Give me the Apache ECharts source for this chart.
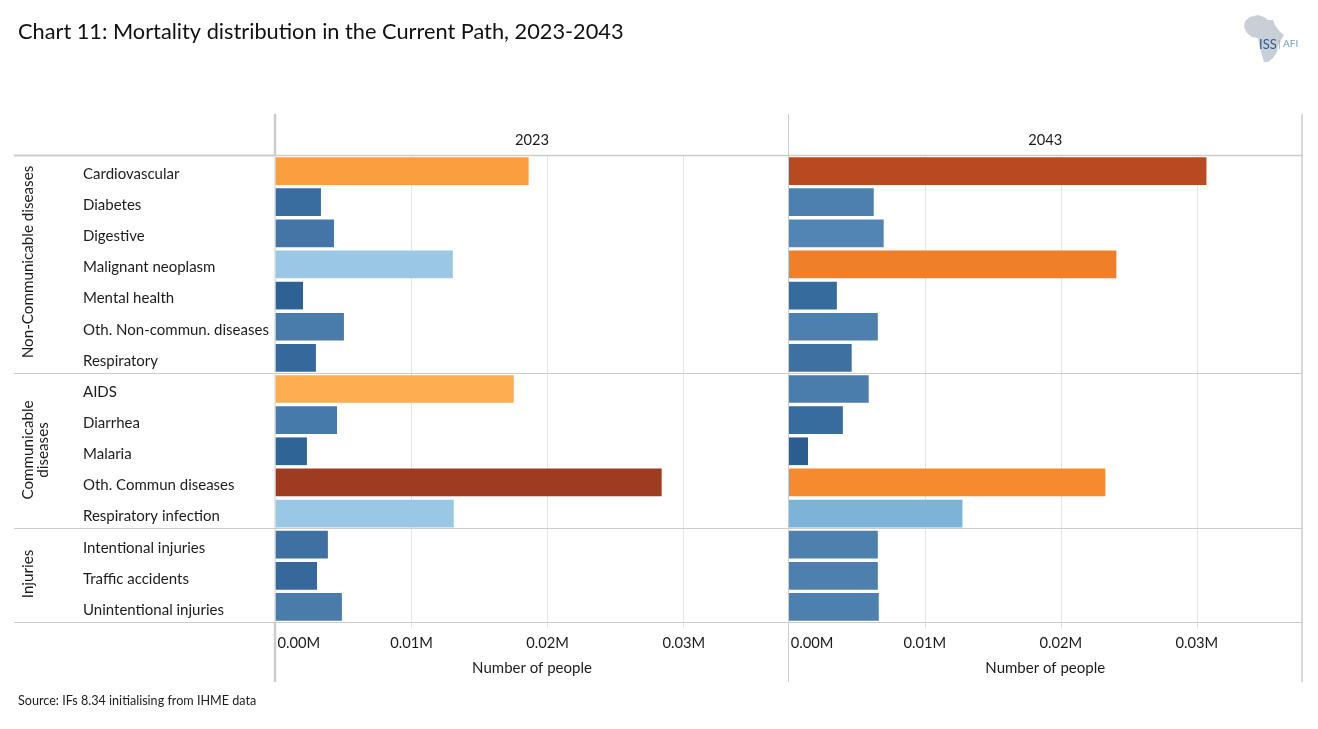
<!DOCTYPE html>
<html><head><meta charset="utf-8">
<style>html,body{margin:0;padding:0;background:#fff}#c{width:1318px;height:729px}</style>
<script src="https://cdn.jsdelivr.net/npm/echarts@6/dist/echarts.min.js"></script>
</head><body><div id="c"></div>
<script>
var categories = ["Cardiovascular","Diabetes","Digestive","Malignant neoplasm","Mental health","Oth. Non-commun. diseases","Respiratory","AIDS","Diarrhea","Malaria","Oth. Commun diseases","Respiratory infection","Intentional injuries","Traffic accidents","Unintentional injuries"];
var years = ["2023","2043"];
var values2023 = [0.0186,0.00334,0.0043,0.01303,0.00202,0.00503,0.00297,0.01751,0.00452,0.00231,0.02838,0.0131,0.00385,0.00305,0.00488];
var values2043 = [0.0307,0.00625,0.00698,0.02408,0.00354,0.00655,0.00463,0.00588,0.00398,0.00142,0.02327,0.01277,0.00655,0.00655,0.00662];
var colors2023 = ["#fb9e3f","#3a6d9f","#4475a6","#9ac8e4","#2f6294","#4a7cab","#36689b","#feae50","#457aaa","#2f6496","#9e3b20","#9ac8e4","#3f70a2","#36689b","#4a7cab"];
var colors2043 = ["#b84a21","#4e80ae","#5385b4","#f07f2a","#366b9e","#4e80ae","#3f70a2","#4b7dac","#386c9f","#2b5d8e","#f68a2f","#7eb3d8","#4e80ae","#4e80ae","#4e80ae"];
var tickLabels = ["0.00M","0.01M","0.02M","0.03M"];
var groups = [
  {name:"Non-Communicable diseases", x:28, y:262},
  {name:"Communicable\ndiseases", x:35.5, y:450},
  {name:"Injuries", x:28, y:574}
];
var font = "Lato, 'Noto Sans', sans-serif";
var txt = "#1c1c1c", rule = "#cccccc", grid = "#e4e4e4";
var panelLefts = [275.5, 788.7], panelW = 513, top0 = 155.5, h0 = 467;

function hline(x1,x2,y,w){return {type:'line',silent:true,z:5,shape:{x1:x1,y1:y,x2:x2,y2:y},style:{stroke:rule,lineWidth:w||1}};}
function vline(x,y1,y2,w){return {type:'line',silent:true,z:5,shape:{x1:x,y1:y1,x2:x,y2:y2},style:{stroke:rule,lineWidth:w}};}
var africa = [[1245,21],[1250,17],[1258,15],[1264,17],[1268,20],[1273,20],[1275,25],[1279,31],[1284,35],[1281,40],[1278,45],[1277,52],[1273,58],[1268,62],[1264,62],[1261,52],[1259,44],[1258,38],[1252,37],[1247,33],[1244,27]];

var graphics = [hline(14,275,155.5,2),hline(275,1302,155.5,1.3),hline(14,1302,373.5,1),hline(14,1302,528.5,1),hline(14,1302,622.5,1),
 vline(275,114,156,2.5),vline(275,156,622,1),vline(275,622,682,2.5),vline(788.5,114,682,1),vline(1302,114,682,1.5),
 {type:'polygon',silent:true,z:1,shape:{points:africa},style:{fill:"#c9cfd7"}},
 {type:'text',silent:true,z:2,style:{x:1259,y:38,text:"ISS",font:"13px "+font,fill:"#2d5c88"}},
 {type:'text',silent:true,z:2,style:{x:1278,y:39,text:"| AFI",font:"10px "+font,fill:"#6f9fc4"}}
];
groups.forEach(function(g){
  graphics.push({type:'text',silent:true,z:6,x:g.x,y:g.y,rotation:Math.PI/2,style:{text:g.name,align:'center',verticalAlign:'middle',font:"15.2px "+font,fill:txt,lineHeight:15}});
});

var chart = echarts.init(document.getElementById('c'),null,{renderer:'canvas'});
var grids=[],xs=[],ys=[],series=[],titles=[];
titles.push({text:"Chart 11: Mortality distribution in the Current Path, 2023-2043",left:18,top:21,padding:0,textStyle:{fontFamily:font,fontSize:21.75,fontWeight:'normal',color:"#111"}});
titles.push({text:"Source: IFs 8.34 initialising from IHME data",left:18,top:694,padding:0,textStyle:{fontFamily:font,fontSize:12.6,fontWeight:'normal',color:txt}});
[values2023,values2043].forEach(function(vals,i){
  var cols = i? colors2043:colors2023;
  grids.push({left:panelLefts[i],top:top0,width:panelW,height:h0,containLabel:false});
  titles.push({text:years[i],left:panelLefts[i]+panelW/2,top:132.5,padding:0,textAlign:'center',textStyle:{fontFamily:font,fontSize:14.7,fontWeight:'normal',color:txt}});
  xs.push({type:'value',gridIndex:i,min:0,max:0.0377,interval:0.01,name:"Number of people",nameLocation:'middle',nameGap:38,
    nameTextStyle:{fontFamily:font,fontSize:15,color:txt},
    axisLine:{show:false},axisTick:{show:true,length:6,lineStyle:{color:grid,width:1}},
    splitLine:{show:true,showMinLine:false,showMaxLine:false,lineStyle:{color:grid,width:1}},
    axisLabel:{show:true,showMaxLabel:false,alignMinLabel:'left',margin:13,fontFamily:font,fontSize:14.7,color:txt,
      rich:{first:{fontFamily:font,fontSize:14.7,color:txt,padding:[0,0,0,2]}},
      formatter:function(v){var k=Math.round(v/0.01);return k===0?"{first|"+tickLabels[0]+"}":(tickLabels[k]||"");}}});
  ys.push({type:'category',gridIndex:i,data:categories,inverse:true,axisLine:{show:false},axisTick:{show:false},splitLine:{show:false},
    axisLabel:{show:i===0,align:'left',margin:192.5,fontFamily:font,fontSize:15,color:txt,interval:0,
      rich:{cat:{fontFamily:font,fontSize:15,color:txt,padding:[6,0,0,0]}},
      formatter:function(v){return "{cat|"+v+"}";}}});
  series.push({type:'bar',xAxisIndex:i,yAxisIndex:i,barCategoryGap:'11%',silent:true,
    data:vals.map(function(v,k){return {value:v,itemStyle:{color:cols[k]}};})});
});
chart.setOption({animation:false,backgroundColor:"#fff",title:titles,grid:grids,xAxis:xs,yAxis:ys,series:series,graphic:graphics});
</script></body></html>
